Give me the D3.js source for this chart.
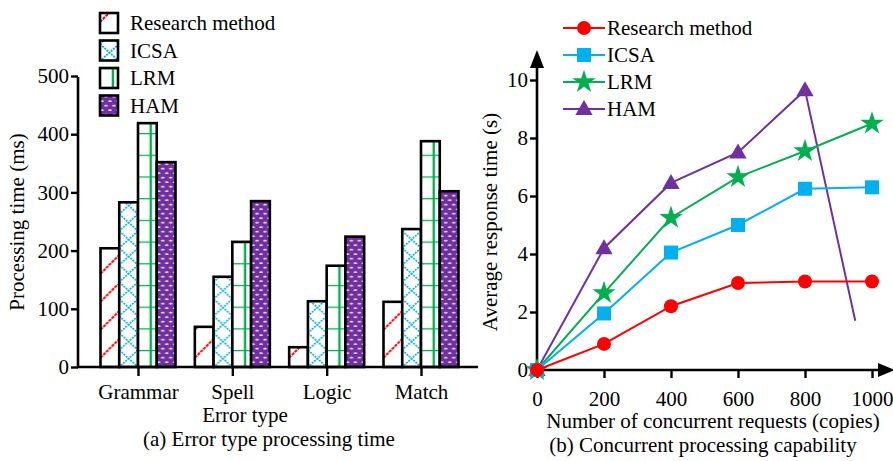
<!DOCTYPE html>
<html><head><meta charset="utf-8">
<script src="https://cdn.jsdelivr.net/npm/d3@7"></script>
<style>body{margin:0;background:#fff}svg{display:block}text{font-family:"Liberation Serif","Times New Roman",serif;fill:#000}</style>
</head><body><svg id="c" width="893" height="461"></svg>
<script>
// ---- data: (a) bar chart ----
const errorTypes = ["Grammar", "Spell", "Logic", "Match"];
const barSeries = ["Research method", "ICSA", "LRM", "HAM"];
const researchTimes = [204, 69, 34, 112];
const icsaTimes = [283, 155, 113, 237];
const lrmTimes = [419, 215, 174, 388];
const hamTimes = [352, 285, 224, 302];
const barTicks = [0, 100, 200, 300, 400, 500];
// ---- data: (b) line chart ----
const requests = [0, 200, 400, 600, 800, 1000];
const researchResp = [0, 0.9, 2.2, 3.0, 3.05, 3.05];
const icsaResp = [0, 1.95, 4.05, 5.0, 6.25, 6.3];
const lrmResp = [0, 2.65, 5.25, 6.65, 7.55, 8.5];
const hamReq = [0, 200, 400, 600, 800, 950];
const hamResp = [0, 4.2, 6.45, 7.5, 9.65, 1.7];
const hamMarked = [true, true, true, true, true, false];
const lineTicksX = [0, 200, 400, 600, 800, 1000];
const lineTicksY = [0, 2, 4, 6, 8, 10];

const colors = {red:"#ff0000", blue:"#00b0f0", green:"#00b050", purple:"#7030a0"};
const svg = d3.select("#c");
const defs = svg.append("defs");
const FS = 21;

// ================= (a) =================
const yA = d3.scaleLinear().domain([0, 500]).range([367, 76]);
const xA = d3.scalePoint().domain(errorTypes).range([138, 421]);
const xInner = d3.scaleBand().domain(barSeries).range([-37.5, 37.5]);
const barData = [researchTimes, icsaTimes, lrmTimes, hamTimes];

function makePattern(id, kind, x0, w) {
  if (kind === 0) {
    const h = 28;
    const p = defs.append("pattern").attr("id", id).attr("patternUnits", "userSpaceOnUse")
      .attr("x", x0).attr("y", 367).attr("width", w).attr("height", h);
    p.append("rect").attr("width", w).attr("height", h).attr("fill", "#fff");
    p.append("path").attr("d", `M0,${w} L${w},0 M0,${w+h} L${w},${h}`)
      .attr("stroke", colors.red).attr("stroke-width", 2).attr("stroke-dasharray", "3,1");
  } else if (kind === 1) {
    const h = 17;
    const p = defs.append("pattern").attr("id", id).attr("patternUnits", "userSpaceOnUse")
      .attr("x", x0).attr("y", 367).attr("width", w).attr("height", h);
    p.append("rect").attr("width", w).attr("height", h).attr("fill", "#fff");
    p.append("path").attr("d", `M0,0 L${w},${h} M${w},0 L0,${h}`)
      .attr("stroke", colors.blue).attr("stroke-width", 1.7).attr("stroke-dasharray", "2,1");
  } else if (kind === 2) {
    const h = 21.7;
    const p = defs.append("pattern").attr("id", id).attr("patternUnits", "userSpaceOnUse")
      .attr("x", x0).attr("y", 367 - 17).attr("width", w).attr("height", h);
    p.append("rect").attr("width", w).attr("height", h).attr("fill", "#fff");
    p.append("path").attr("d", `M0,0 L${w},0 M${w*0.68},0 L${w*0.68},${h}`)
      .attr("stroke", colors.green).attr("stroke-width", 2.4);
  } else {
    const p = defs.append("pattern").attr("id", id).attr("patternUnits", "userSpaceOnUse")
      .attr("x", x0).attr("y", 0).attr("width", 8).attr("height", 9);
    p.append("rect").attr("width", 8).attr("height", 9).attr("fill", colors.purple);
    p.append("ellipse").attr("cx", 2).attr("cy", 2.2).attr("rx", 1.8).attr("ry", 0.9).attr("fill", "#e8dcf2");
    p.append("ellipse").attr("cx", 6).attr("cy", 6.7).attr("rx", 1.8).attr("ry", 0.9).attr("fill", "#e8dcf2");
  }
}

const gA = svg.append("g");
errorTypes.forEach((cat, ci) => {
  barSeries.forEach((s, si) => {
    const x = xA(cat) + xInner(s);
    const w = xInner.bandwidth();
    const id = `p${ci}_${si}`;
    makePattern(id, si, x, w);
    gA.append("rect").attr("x", x).attr("y", yA(barData[si][ci]))
      .attr("width", w).attr("height", yA(0) - yA(barData[si][ci]))
      .attr("fill", `url(#${id})`).attr("stroke", "#000").attr("stroke-width", 2.6);
  });
});

// axes (a)
const axA = svg.append("g").attr("transform", "translate(78,0)")
  .call(d3.axisLeft(yA).tickValues(barTicks).tickSize(7).tickSizeOuter(0));
axA.select(".domain").attr("stroke-width", 2.6).attr("d", "M0,368V77");
axA.selectAll(".tick line").attr("stroke-width", 2.4);
axA.selectAll(".tick text").style("font-size", FS + "px").style("font-family", "Liberation Serif").attr("x", -9);

svg.append("line").attr("x1", 77).attr("x2", 478).attr("y1", 367).attr("y2", 367)
  .attr("stroke", "#000").attr("stroke-width", 2.6);
const axAb = svg.append("g").attr("transform", "translate(0,367)")
  .call(d3.axisBottom(xA).tickSize(9).tickSizeOuter(0));
axAb.select(".domain").remove();
axAb.selectAll(".tick line").attr("stroke-width", 2.4);
axAb.selectAll(".tick text").style("font-size", FS + "px").style("font-family", "Liberation Serif").attr("y", 17);

svg.append("text").attr("transform", "translate(24,222) rotate(-90)").attr("text-anchor", "middle")
  .style("font-size", FS + "px").text("Processing time (ms)");
svg.append("text").attr("x", 245).attr("y", 422).attr("text-anchor", "middle")
  .style("font-size", FS + "px").text("Error type");
svg.append("text").attr("x", 269).attr("y", 446).attr("text-anchor", "middle")
  .style("font-size", FS + "px").text("(a) Error type processing time");

// legend (a)
barSeries.forEach((s, i) => {
  const y = 13 + i * 27.5;
  const id = `lp${i}`;
  makePattern(id, i, 100, 19);
  svg.append("rect").attr("x", 100).attr("y", y).attr("width", 18).attr("height", 20)
    .attr("fill", `url(#${id})`).attr("stroke", "#000").attr("stroke-width", 2.6);
  svg.append("text").attr("x", 130).attr("y", y + 17).style("font-size", FS + "px").text(s);
});

// ================= (b) =================
const xB = d3.scaleLinear().domain([0, 1000]).range([537, 872]);
const yB = d3.scaleLinear().domain([0, 10]).range([370, 80]);

const axBl = svg.append("g").attr("transform", "translate(537,0)")
  .call(d3.axisLeft(yB).tickValues(lineTicksY).tickSize(7).tickSizeOuter(0));
axBl.select(".domain").attr("stroke-width", 2.6).attr("d", "M0,371V62");
axBl.selectAll(".tick line").attr("stroke-width", 2.4);
axBl.selectAll(".tick text").style("font-size", FS + "px").style("font-family", "Liberation Serif").attr("x", -9);

const axBb = svg.append("g").attr("transform", "translate(0,370)")
  .call(d3.axisBottom(xB).tickValues(lineTicksX).tickFormat(d3.format("d")).tickSize(8).tickSizeOuter(0));
axBb.select(".domain").attr("stroke-width", 2.6).attr("d", "M536,0H884");
axBb.selectAll(".tick line").attr("stroke-width", 2.4);
axBb.selectAll(".tick text").style("font-size", FS + "px").style("font-family", "Liberation Serif").attr("y", 21);
// arrows
svg.append("path").attr("d", "M537,50 L530,68 L544,68 Z").attr("fill", "#000");
svg.append("path").attr("d", "M895,370 L878,363 L878,377 Z").attr("fill", "#000");

svg.append("text").attr("transform", "translate(497,222) rotate(-90)").attr("text-anchor", "middle")
  .style("font-size", FS + "px").text("Average response time (s)");
svg.append("text").attr("x", 713).attr("y", 428).attr("text-anchor", "middle")
  .style("font-size", FS + "px").text("Number of concurrent requests (copies)");
svg.append("text").attr("x", 703).attr("y", 452).attr("text-anchor", "middle")
  .style("font-size", FS + "px").text("(b) Concurrent processing capability");

const star = d3.symbol().type(d3.symbolStar).size(170);
const tri = d3.symbol().type(d3.symbolTriangle).size(130);
const series = [
  {name: "Research method", xs: requests, ys: researchResp, color: colors.red, mk: "circle", marked: requests.map(() => true)},
  {name: "ICSA", xs: requests, ys: icsaResp, color: colors.blue, mk: "square", marked: requests.map(() => true)},
  {name: "LRM", xs: requests, ys: lrmResp, color: colors.green, mk: "star", marked: requests.map(() => true)},
  {name: "HAM", xs: hamReq, ys: hamResp, color: colors.purple, mk: "tri", marked: hamMarked},
];
function drawMarker(g, mk, x, y, color) {
  if (mk === "circle") g.append("circle").attr("cx", x).attr("cy", y).attr("r", 7).attr("fill", color);
  else if (mk === "square") g.append("rect").attr("x", x - 7).attr("y", y - 7).attr("width", 14).attr("height", 14).attr("fill", color);
  else if (mk === "star") g.append("path").attr("d", star()).attr("transform", `translate(${x},${y})`).attr("fill", color);
  else g.append("path").attr("d", tri()).attr("transform", `translate(${x},${y + 1})`).attr("fill", color);
}
const line = d3.line().x(d => xB(d[0])).y(d => yB(d[1]));
const drawOrder = [3, 2, 1, 0];
drawOrder.forEach(i => {
  const s = series[i];
  const g = svg.append("g");
  const pts = s.xs.map((x, j) => [x, s.ys[j]]);
  g.append("path").attr("d", line(pts)).attr("fill", "none").attr("stroke", s.color).attr("stroke-width", 2);
  pts.forEach((p, j) => { if (s.marked[j]) drawMarker(g, s.mk, xB(p[0]), yB(p[1]), s.color); });
});

// legend (b)
series.forEach((s, i) => {
  const y = 28 + i * 27;
  const g = svg.append("g");
  g.append("line").attr("x1", 563).attr("x2", 605).attr("y1", y).attr("y2", y).attr("stroke", s.color).attr("stroke-width", 2);
  drawMarker(g, s.mk, 584, y, s.color);
  svg.append("text").attr("x", 607).attr("y", y + 7).style("font-size", FS + "px").text(s.name);
});
</script></body></html>
